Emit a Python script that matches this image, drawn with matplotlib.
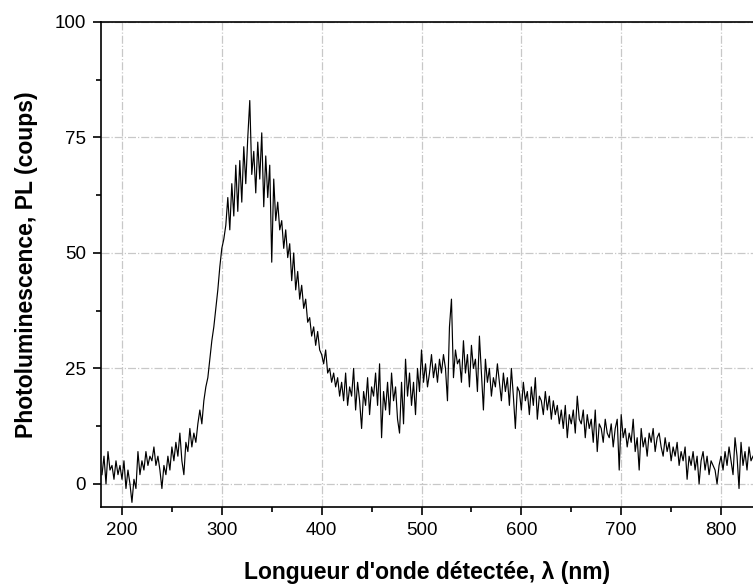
import numpy as np
import matplotlib
matplotlib.use('Agg')
import matplotlib.pyplot as plt

plt.rcParams['font.family'] = ['Liberation Sans', 'DejaVu Sans']

# wavelength grid (nm), 2 nm sampling
wl_start = 180
wl_step = 2

# PL counts, one row per 20 nm
pl = [
    2, 6, 0, 7, 3, 4, 1, 5, 2, 4,          # 180
    1, 5, -1, 3, 0, -4, 1, -1, 7, 2,       # 200
    5, 3, 7, 4, 6, 5, 8, 4, 6, 3,          # 220
    -1, 4, 2, 6, 3, 8, 5, 9, 6, 11,        # 240
    5, 2, 9, 7, 12, 8, 11, 9, 13, 16,      # 260
    13, 18, 21, 23, 27, 31, 34, 38, 42, 47,  # 280
    51, 53, 56, 62, 55, 65, 58, 69, 59, 70,  # 300
    61, 73, 65, 75, 83, 67, 72, 63, 74, 66,  # 320
    76, 60, 71, 62, 69, 48, 66, 57, 61, 55,  # 340
    57, 51, 55, 49, 52, 44, 50, 42, 46, 40,  # 360
    43, 38, 40, 35, 36, 32, 34, 30, 33, 29,  # 380
    28, 26, 29, 24, 25, 22, 24, 21, 23, 19,  # 400
    22, 18, 24, 17, 21, 19, 25, 16, 22, 18,  # 420
    12, 20, 17, 23, 15, 21, 19, 24, 17, 26,  # 440
    10, 20, 16, 22, 15, 24, 18, 21, 14, 11,  # 460
    22, 13, 27, 19, 24, 17, 22, 15, 25, 20,  # 480
    29, 22, 26, 21, 24, 28, 23, 26, 22, 27,  # 500
    24, 28, 25, 18, 34, 40, 23, 29, 26, 27,  # 520
    22, 31, 24, 28, 21, 30, 25, 27, 20, 32,  # 540
    24, 16, 27, 22, 25, 19, 23, 21, 26, 22,  # 560
    18, 24, 20, 23, 17, 25, 19, 12, 21, 20,  # 580
    16, 22, 18, 20, 15, 21, 17, 23, 14, 19,  # 600
    18, 15, 20, 16, 19, 14, 18, 15, 17, 13,  # 620
    16, 12, 17, 10, 15, 13, 16, 11, 19, 14,  # 640
    13, 16, 10, 15, 12, 14, 9, 16, 7, 13,    # 660
    12, 9, 14, 11, 10, 13, 8, 12, 14, 3,     # 680
    15, 10, 12, 8, 11, 9, 14, 7, 10, 3,      # 700
    12, 8, 10, 6, 11, 9, 12, 7, 10, 11,      # 720
    8, 6, 10, 7, 9, 5, 8, 6, 9, 4,           # 740
    7, 5, 8, 1, 6, 4, 7, 3, 6, 0,            # 760
    5, 7, 3, 6, 2, 5, 4, 3, 0, 4,            # 780
    6, 3, 7, 4, 8, 5, 2, 10, 6, -1,          # 800
    9, 4, 7, 3, 8, 5, 6,                     # 820
]
wl = wl_start + wl_step*np.arange(len(pl))

x_ticks = [200, 300, 400, 500, 600, 700, 800]
y_ticks = [0, 25, 50, 75, 100]

fig = plt.figure(figsize=(7.53, 5.85), dpi=100)
ax = fig.add_axes([101/753, 1-507/585, 653/753, 485/585])

ax.plot(wl, pl, color='black', lw=0.85)

ax.set_xlim(179, 833)
ax.set_ylim(-5, 100)
ax.set_xticks(x_ticks)
ax.set_yticks(y_ticks)
ax.set_xticks(np.arange(250, 850, 100), minor=True)
ax.set_yticks([12.5, 37.5, 62.5, 87.5], minor=True)

ax.grid(True, which='major', color='#c8c8c8', linestyle='-.', lw=0.9)
ax.set_axisbelow(True)

for s in ['left', 'bottom', 'top']:
    ax.spines[s].set_linewidth(1.2)
ax.spines['right'].set_visible(False)

ax.tick_params(which='major', direction='out', length=6, width=1.2, labelsize=13.5, pad=5)
ax.tick_params(which='minor', direction='out', length=3.5, width=1.2)
ax.tick_params(top=False, right=False)

ax.set_xlabel("Longueur d'onde détectée, λ (nm)", fontsize=16.5, fontweight='bold', labelpad=16)
ax.set_ylabel('Photoluminescence, PL (coups)', fontsize=16.5, fontweight='bold', labelpad=12)

fig.savefig('out.png', dpi=100)
